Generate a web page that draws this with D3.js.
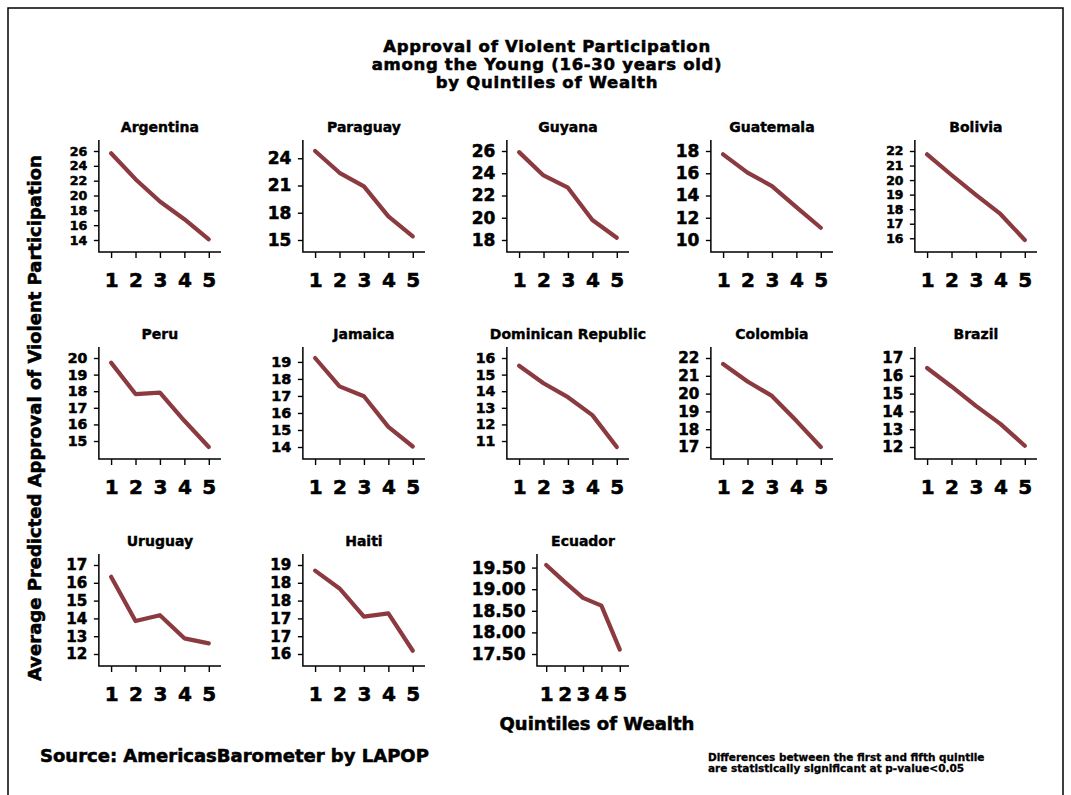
<!DOCTYPE html>
<html>
<head>
<meta charset="utf-8">
<script src="https://cdn.jsdelivr.net/npm/d3@7"></script>
<style>
  body { margin: 0; background: #fff; }
  svg text { font-family: "DejaVu Sans", sans-serif; font-weight: bold; fill: #000;
             stroke: #000; stroke-width: 0.55px; }
  svg text.small { stroke-width: 0.3px; }
</style>
</head>
<body>
<svg id="chart" width="1071" height="795"></svg>
<script>
// Quintiles of wealth on the x axis
const quintiles = [1, 2, 3, 4, 5];
const xTickLabels = ["1", "2", "3", "4", "5"];

// Panel order (row by row)
const countries = ["Argentina", "Paraguay", "Guyana", "Guatemala", "Bolivia",
                   "Peru", "Jamaica", "Dominican Republic", "Colombia", "Brazil",
                   "Uruguay", "Haiti", "Ecuador"];

// Average predicted approval of violent participation, quintiles 1..5
const argentina  = [25.7, 22.2, 19.2, 16.8, 14.1];
const paraguay   = [24.8, 22.4, 20.9, 17.6, 15.4];
const guyana     = [25.9, 23.8, 22.7, 19.8, 18.2];
const guatemala  = [17.7, 16.05, 14.85, 12.95, 11.1];
const bolivia    = [21.77, 20.35, 18.98, 17.67, 15.88];
const peru       = [19.72, 17.83, 17.91, 16.22, 14.64];
const jamaica    = [19.23, 17.56, 16.98, 15.18, 14.03];
const dominican  = [15.53, 14.48, 13.64, 12.56, 10.64];
const colombia   = [21.66, 20.68, 19.87, 18.47, 17.0];
const brazil     = [16.44, 15.4, 14.31, 13.3, 12.07];
const uruguay    = [16.34, 13.85, 14.18, 12.88, 12.6];
const haiti      = [18.81, 18.21, 17.26, 17.37, 16.11];
const ecuador    = [19.56, 19.17, 18.8, 18.62, 17.6];

const seriesValues = [argentina, paraguay, guyana, guatemala, bolivia,
                      peru, jamaica, dominican, colombia, brazil,
                      uruguay, haiti, ecuador];

// y-axis tick positions and the labels printed at them
const yTicks = [
  [14, 16, 18, 20, 22, 24, 26],
  [15, 18, 21, 24],
  [18, 20, 22, 24, 26],
  [10, 12, 14, 16, 18],
  [16, 17, 18, 19, 20, 21, 22],
  [15, 16, 17, 18, 19, 20],
  [14, 15, 16, 17, 18, 19],
  [11, 12, 13, 14, 15, 16],
  [17, 18, 19, 20, 21, 22],
  [12, 13, 14, 15, 16, 17],
  [12, 13, 14, 15, 16, 17],
  [16, 16.6, 17.2, 17.8, 18.4, 19],
  [17.5, 18, 18.5, 19, 19.5]
];
const yTickLabels = [
  ["14", "16", "18", "20", "22", "24", "26"],
  ["15", "18", "21", "24"],
  ["18", "20", "22", "24", "26"],
  ["10", "12", "14", "16", "18"],
  ["16", "17", "18", "19", "20", "21", "22"],
  ["15", "16", "17", "18", "19", "20"],
  ["14", "15", "16", "17", "18", "19"],
  ["11", "12", "13", "14", "15", "16"],
  ["17", "18", "19", "20", "21", "22"],
  ["12", "13", "14", "15", "16", "17"],
  ["12", "13", "14", "15", "16", "17"],
  ["16", "17", "17", "18", "18", "19"],
  ["17.50", "18.00", "18.50", "19.00", "19.50"]
];

const titleLines = ["Approval of Violent Participation",
                    "among the Young (16-30 years old)",
                    "by Quintiles of Wealth"];
const yTitle = "Average Predicted Approval of Violent Participation";
const xTitle = "Quintiles of Wealth";
const sourceNote = "Source: AmericasBarometer by LAPOP";
const footNote = ["Differences between the first and fifth quintile",
                  "are statistically significant at p-value<0.05"];

// ---- layout ----
const svg = d3.select("#chart");
const lineColor = "#8b3a3f";
const colLeft = [63.7, 267.7, 471.7, 675.7, 879.7];
const rowTop = [151, 358, 565];
const plotH = 89;          // from top of data range to bottom of data range
const panelW = 157.3;      // from left edge of tick labels to right end of x axis
const yFontMax = 17, xFont = 20;

// outer frame
svg.append("rect")
  .attr("x", 8).attr("y", 8).attr("width", 1055).attr("height", 800)
  .attr("fill", "none").attr("stroke", "#000").attr("stroke-width", 1.5);

// main title
svg.append("g").selectAll("text").data(titleLines).join("text")
  .attr("x", 547).attr("y", (d, i) => 52 + i * 18.2)
  .attr("text-anchor", "middle").attr("font-size", 16.5)
  .attr("letter-spacing", 0.7)
  .text(d => d);

// measure widest y tick label for each panel
const measurer = svg.append("text").attr("visibility", "hidden");
function labelWidth(labels, size) {
  measurer.attr("font-size", size);
  return d3.max(labels, s => { measurer.text(s); return measurer.node().getComputedTextLength(); });
}

countries.forEach((name, i) => {
  const r = Math.floor(i / 5), c = i % 5;
  const top = rowTop[r];
  const vals = seriesValues[i];
  const ticks = yTicks[i];
  const labs = yTickLabels[i];

  const lo = Math.min(d3.min(ticks), d3.min(vals));
  const hi = Math.max(d3.max(ticks), d3.max(vals));
  const y = d3.scaleLinear().domain([lo, hi]).range([top + plotH, top]);

  // tightly packed tick labels get a smaller size so they do not collide
  const spacing = Math.abs(y(ticks[1]) - y(ticks[0]));
  const yFont = Math.min(yFontMax, spacing * 0.85);

  const axisX = colLeft[c] + labelWidth(labs, 17) + 11.5;
  const rightX = colLeft[c] + panelW;
  const baseY = top + 101;

  const x = d3.scaleLinear().domain([0.5, 5.5]).range([axisX, rightX]);

  const g = svg.append("g");

  // panel title
  g.append("text")
    .attr("x", (axisX + rightX) / 2).attr("y", top - 19)
    .attr("text-anchor", "middle").attr("font-size", 14)
    .style("stroke-width", "0.4px")
    .text(name);

  // y axis
  const ya = g.append("g").attr("transform", `translate(${axisX},0)`)
    .call(d3.axisLeft(y).tickValues(ticks).tickSize(5).tickPadding(6.5)
      .tickFormat((d, k) => labs[k]));
  ya.select(".domain").remove();
  ya.selectAll(".tick line").attr("stroke", "#000").attr("stroke-width", 1.4);
  ya.selectAll(".tick text").attr("font-size", yFont).attr("font-family", null);

  // x axis
  const xa = g.append("g").attr("transform", `translate(0,${baseY})`)
    .call(d3.axisBottom(x).tickValues(quintiles).tickSize(6).tickPadding(14.5)
      .tickFormat((d, k) => xTickLabels[k]));
  xa.select(".domain").remove();
  xa.selectAll(".tick line").attr("stroke", "#000").attr("stroke-width", 1.4);
  xa.selectAll(".tick text").attr("font-size", xFont).attr("font-family", null);

  // axis lines meeting at the corner
  g.append("path")
    .attr("d", `M${axisX},${top - 11}V${baseY}H${rightX}`)
    .attr("fill", "none").attr("stroke", "#000").attr("stroke-width", 1.5);

  // series line
  g.append("path")
    .datum(vals)
    .attr("fill", "none").attr("stroke", lineColor).attr("stroke-width", 4.2)
    .attr("stroke-linejoin", "round").attr("stroke-linecap", "round")
    .attr("d", d3.line().x((d, k) => x(quintiles[k])).y(d => y(d)));
});
measurer.remove();

// axis titles
svg.append("text")
  .attr("transform", "translate(41,418) rotate(-90)")
  .attr("text-anchor", "middle").attr("font-size", 18)
  .text(yTitle);

svg.append("text")
  .attr("x", 597).attr("y", 730)
  .attr("text-anchor", "middle").attr("font-size", 18)
  .text(xTitle);

// notes
svg.append("text")
  .attr("x", 40).attr("y", 762).attr("font-size", 18)
  .text(sourceNote);

svg.append("g").selectAll("text").data(footNote).join("text")
  .attr("class", "small")
  .attr("x", 708).attr("y", (d, i) => 761 + i * 10.5)
  .attr("font-size", 10.5)
  .text(d => d);
</script>
</body>
</html>
